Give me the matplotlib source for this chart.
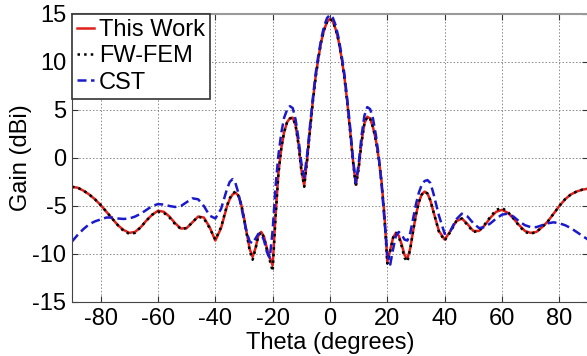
import numpy as np
import matplotlib
matplotlib.use("Agg")
import matplotlib.pyplot as plt

plt.rcParams['font.family'] = ['Liberation Sans', 'DejaVu Sans']
plt.rcParams['axes.unicode_minus'] = False

# theta samples: 2 deg in the far sidelobes, 1 deg around the main beam
theta = list(range(-90, -36, 2)) + list(range(-36, 37)) + list(range(38, 91, 2))

# outer sidelobes, -90..-38 step 2
this_work_left = [-3.0, -3.1, -3.4, -3.8, -4.3, -4.9, -5.6, -6.3, -7.0, -7.5, -7.8, -7.7, -7.2, -6.5,
                  -5.9, -5.5, -5.6, -6.1, -6.8, -7.35, -7.3, -6.7, -6.1, -6.2, -7.2, -8.6, -7.3]
# -36..36 step 1
this_work_mid = [-5.1, -4.3, -3.8, -3.6, -3.9, -4.8, -6.2, -7.9, -9.5, -10.3, -9.4, -8.1, -7.7, -8.2,
                 -9.4, -10.4, -11.2, -6.0, -1.6, 1.0, 2.7, 3.7, 4.15, 4.2, 3.4, 1.5, -1.2, -2.9, -0.2,
                 2.9, 5.9, 8.5, 10.5, 12.2, 13.4, 14.2, 14.5, 14.2, 13.4, 12.2, 10.5, 8.5, 5.9, 2.9,
                 -0.2, -2.8, -1.0, 1.7, 3.6, 4.3, 4.1, 3.2, 1.9, 0.0, -2.5, -6.0, -10.8, -9.6, -8.3,
                 -7.8, -8.1, -9.0, -10.1, -10.5, -9.4, -7.6, -5.9, -4.6, -3.8, -3.5, -3.7, -4.4, -5.5]
# 38..90 step 2
this_work_right = [-7.6, -8.5, -7.6, -6.6, -6.3, -6.9, -7.6, -7.6, -7.0, -6.2, -5.6, -5.4, -5.7, -6.3,
                   -7.0, -7.6, -7.8, -7.7, -7.2, -6.6, -5.8, -5.0, -4.3, -3.8, -3.5, -3.3, -3.2]

fwfem_left = [-3.0, -3.1, -3.4, -3.8, -4.3, -4.9, -5.6, -6.3, -7.0, -7.6, -7.9, -7.8, -7.2, -6.5,
              -5.9, -5.6, -5.7, -6.2, -6.9, -7.4, -7.3, -6.7, -6.1, -6.3, -7.3, -8.5, -7.2]
fwfem_mid = [-5.0, -4.2, -3.7, -3.5, -3.9, -4.8, -6.3, -8.0, -9.7, -10.6, -9.5, -8.1, -7.7, -8.3,
             -9.6, -10.7, -11.8, -6.2, -1.7, 1.0, 2.7, 3.7, 4.1, 4.2, 3.4, 1.4, -1.3, -3.0, -0.3,
             2.8, 5.8, 8.4, 10.5, 12.2, 13.4, 14.2, 14.5, 14.2, 13.4, 12.2, 10.5, 8.4, 5.8, 2.8,
             -0.3, -3.0, -1.1, 1.6, 3.6, 4.3, 4.1, 3.2, 1.8, -0.1, -2.6, -6.2, -11.0, -9.7, -8.3,
             -7.8, -8.2, -9.2, -10.4, -10.8, -9.5, -7.6, -5.9, -4.6, -3.8, -3.5, -3.7, -4.4, -5.5]
fwfem_right = [-7.7, -8.6, -7.7, -6.6, -6.3, -7.0, -7.7, -7.6, -6.9, -6.1, -5.4, -5.2, -5.6, -6.3,
               -7.1, -7.7, -7.9, -7.7, -7.2, -6.6, -5.8, -5.0, -4.3, -3.8, -3.5, -3.3, -3.2]

cst_left = [-8.7, -8.0, -7.4, -6.9, -6.6, -6.4, -6.2, -6.2, -6.3, -6.35, -6.3, -6.1, -5.8, -5.4,
            -5.0, -4.8, -4.85, -5.0, -5.1, -5.0, -4.6, -4.2, -4.3, -5.0, -6.0, -6.3, -5.3]
cst_mid = [-3.3, -2.5, -2.2, -2.6, -3.6, -5.0, -6.5, -7.8, -8.7, -8.9, -8.4, -7.9, -7.9, -8.6,
           -9.8, -10.4, -7.5, -3.0, 0.3, 2.6, 4.2, 5.0, 5.4, 5.2, 4.0, 2.0, -0.5, -2.0, 0.3,
           3.3, 6.2, 8.8, 10.8, 12.5, 13.8, 14.6, 14.9, 14.6, 13.8, 12.5, 10.8, 8.8, 6.2, 3.3,
           0.0, -2.6, -0.6, 2.3, 4.4, 5.3, 5.1, 4.1, 2.4, 0.2, -2.8, -6.5, -10.0, -11.1, -9.5,
           -8.1, -7.7, -8.0, -8.5, -8.6, -7.8, -6.3, -4.8, -3.6, -2.8, -2.4, -2.3, -2.6, -3.6]
cst_right = [-6.0, -7.9, -7.6, -6.4, -5.8, -6.1, -6.8, -7.3, -7.2, -6.8, -6.3, -5.9, -5.8, -6.1,
             -6.6, -7.0, -7.2, -7.2, -7.0, -6.8, -6.7, -6.8, -7.0, -7.3, -7.7, -8.1, -8.5]

this_work = this_work_left + this_work_mid + this_work_right
fwfem = fwfem_left + fwfem_mid + fwfem_right
cst = cst_left + cst_mid + cst_right

fs = 17

fig = plt.figure(figsize=(5.87, 3.56), dpi=100)
ax = fig.add_axes([72 / 587, 54 / 356, 516 / 587, 288 / 356])

ax.plot(theta, this_work, color='#e0201b', lw=1.8, label='This Work')
ax.plot(theta, fwfem, color='black', lw=1.8, ls=':', label='FW-FEM')
ax.plot(theta, cst, color='#1a1acc', lw=1.8, ls=(0, (3.6, 1.8)), label='CST')

ax.set_xlim(-90, 90)
ax.set_ylim(-15, 15)
ax.set_xticks([-80, -60, -40, -20, 0, 20, 40, 60, 80])
ax.set_yticks([-15, -10, -5, 0, 5, 10, 15])
ax.grid(True, color='#888888', ls=(0, (1.5, 2)), lw=0.7)
ax.tick_params(direction='in', top=True, right=True, labelsize=fs, length=4, color='#333333', pad=4)
for side in ['left', 'bottom', 'right']:
    ax.spines[side].set_color('#444444')
ax.spines['top'].set_color('#999999')
ax.spines['top'].set_linewidth(1.5)

ax.set_xlabel('Theta (degrees)', fontsize=fs, labelpad=1.5)
ax.set_ylabel('Gain (dBi)', fontsize=fs, labelpad=0)

leg = ax.legend(loc='upper left', fontsize=fs, handlelength=0.72, handletextpad=0.2,
                borderpad=0.22, labelspacing=0.18, borderaxespad=0.0, fancybox=False,
                framealpha=1)
leg.get_frame().set_edgecolor('#333333')
leg.get_frame().set_linewidth(1.2)

fig.savefig('out.png', dpi=100)
